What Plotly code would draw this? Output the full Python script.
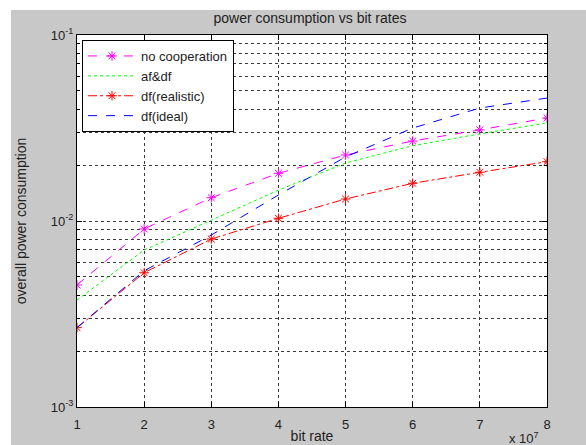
import plotly.graph_objects as go

# ---- data ----
bit_rate = [1, 2, 3, 4, 5, 6, 7, 8]  # x 10^7
no_cooperation = [0.00453, 0.00906, 0.01334, 0.01805, 0.02264, 0.02692, 0.0309, 0.0358]
af_df = [0.00376, 0.00698, 0.0101, 0.01465, 0.0205, 0.0254, 0.0294, 0.0337]
df_realistic = [0.00267, 0.00527, 0.0080, 0.01034, 0.01313, 0.01595, 0.01828, 0.02084]
df_ideal = [0.00267, 0.0054, 0.0084, 0.0138, 0.0221, 0.0316, 0.0405, 0.0458]

y_major = [0.001, 0.01, 0.1]
y_major_text = ["10<sup>-3</sup>", "10<sup>-2</sup>", "10<sup>-1</sup>"]
y_minor = [k * 0.001 for k in range(2, 10)] + [k * 0.01 for k in range(2, 10)]

W, H = 586, 445
L, R, T, B = 77, 39, 35, 38
pw, ph = W - L - R, H - T - B

FONT = "Liberation Sans, Arial, sans-serif"
GRID = "#3a3a3a"

fig = go.Figure()

def add(name, y, color, dash, marker):
    fig.add_trace(go.Scatter(
        x=bit_rate, y=y, name=name,
        mode="lines+markers" if marker else "lines",
        line=dict(color=color, width=1, dash=dash),
        marker=dict(symbol="asterisk-open", size=8, color=color,
                    line=dict(color=color, width=1)),
    ))

add("no cooperation", no_cooperation, "#ff00ff", "dash", True)
add("af&df", af_df, "#00ff00", "dot", False)
add("df(realistic)", df_realistic, "#ff0000", "dashdot", True)
add("df(ideal)", df_ideal, "#0000ff", "dash", False)

fig.update_layout(
    width=W, height=H,
    margin=dict(l=L, r=R, t=T, b=B, pad=0, autoexpand=False),
    paper_bgcolor="#c8c8c8",
    plot_bgcolor="white",
    font=dict(family=FONT, size=13, color="#222"),
    title=dict(text="power consumption vs bit rates", x=310 / W, xanchor="center",
               y=1 - 18 / H, yanchor="middle", font=dict(size=14)),
    showlegend=True,
    legend=dict(x=5 / pw, y=1 - 5 / ph, xanchor="left", yanchor="top",
                bgcolor="white", bordercolor="black", borderwidth=1,
                font=dict(size=13), tracegroupgap=0, itemwidth=48),
    xaxis=dict(
        range=[1, 8], tickmode="array", tickvals=bit_rate,
        ticks="inside", ticklen=5, tickcolor="black",
        showline=True, linecolor="black", linewidth=1, mirror="ticks",
        showgrid=True, gridcolor=GRID, griddash="dot", gridwidth=1,
        zeroline=False, ticklabelstandoff=5, automargin=False,
        title=dict(text="bit rate", standoff=0, font=dict(size=14)),
        tickfont=dict(size=13),
    ),
    yaxis=dict(
        type="log", range=[-3, -1], automargin=False,
        tickmode="array", tickvals=y_major, ticktext=y_major_text,
        ticks="inside", ticklen=5, tickcolor="black",
        showline=True, linecolor="black", linewidth=1, mirror="ticks",
        showgrid=True, gridcolor=GRID, griddash="dot", gridwidth=1,
        minor=dict(tickmode="array", tickvals=y_minor, ticks="inside", ticklen=3,
                   tickcolor="black", showgrid=True, gridcolor=GRID,
                   griddash="dot", gridwidth=1),
        title=dict(text="overall power consumption", standoff=20, font=dict(size=14)),
        tickfont=dict(size=13),
    ),
)

# white strips of the figure window (top and left)
fig.add_shape(type="rect", xref="paper", yref="paper", layer="below",
              x0=-L / pw, x1=(11 - L) / pw, y0=-B / ph - 0.01, y1=1 + T / ph + 0.01,
              fillcolor="white", line_width=0)
fig.add_shape(type="rect", xref="paper", yref="paper", layer="below",
              x0=-L / pw, x1=1 + R / pw + 0.01, y0=1 + (T - 10) / ph, y1=1 + T / ph + 0.01,
              fillcolor="white", line_width=0)

# x exponent
fig.add_annotation(text="x 10<sup>7</sup>", xref="paper", yref="paper",
                   x=(524 - L) / pw, y=-(438 - T - ph) / ph, xanchor="center", yanchor="middle",
                   showarrow=False, font=dict(size=13))

fig.write_html("out.html")
